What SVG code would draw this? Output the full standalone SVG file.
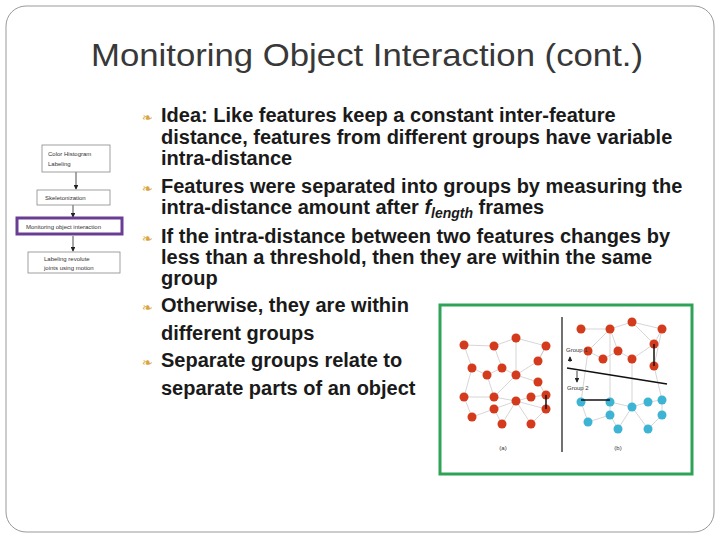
<svg xmlns="http://www.w3.org/2000/svg" width="720" height="540" viewBox="0 0 720 540">
<defs>
<style>
.t{font-family:"Liberation Sans",Arial,sans-serif;font-weight:bold;font-size:20px;fill:#1a1a1a}
.b{font-family:"DejaVu Sans",sans-serif;font-size:13px;fill:#d9a43c}
.s{font-family:"Liberation Sans",Arial,sans-serif;font-size:6px;fill:#333}
.fb{fill:#fff;stroke:#888;stroke-width:0.8}
.e{stroke:#bbb;stroke-width:0.6;fill:none}
.r{fill:#d43a1c}
.c{fill:#3db4d4}
.k{stroke:#111;stroke-width:1.5;fill:none}
</style>
<marker id="ar" markerWidth="6" markerHeight="6" refX="5" refY="3" orient="auto"><path d="M0,0L6,3L0,6z" fill="#222"/></marker>
</defs>
<rect x="6" y="6" width="708" height="526" rx="20" fill="#fff" stroke="#999" stroke-width="1"/>
<text x="367" y="66" text-anchor="middle" font-family="Liberation Sans,Arial,sans-serif" font-size="32" fill="#383838" textLength="552" lengthAdjust="spacingAndGlyphs">Monitoring Object Interaction (cont.)</text>

<g id="flow">
<g id="connectors">
<line x1="76" y1="172" x2="76" y2="189" stroke="#222" stroke-width="0.8" marker-end="url(#ar)"/>
<line x1="73" y1="205" x2="73" y2="217" stroke="#222" stroke-width="0.8" marker-end="url(#ar)"/>
<line x1="73" y1="236" x2="73" y2="251" stroke="#222" stroke-width="0.8" marker-end="url(#ar)"/>
</g>
<g id="n1"><rect class="fb" x="42" y="145" width="68" height="27"/><text class="s" x="48" y="156">Color Histogram</text><text class="s" x="48" y="166">Labeling</text></g>
<g id="n2"><rect class="fb" x="37" y="190" width="73" height="15"/><text class="s" x="45" y="200">Skeletonization</text></g>
<g id="n3"><rect x="17" y="218" width="105" height="16" fill="#fff" stroke="#6a3d94" stroke-width="3"/><text class="s" x="26" y="229">Monitoring object interaction</text></g>
<g id="n4"><rect class="fb" x="28" y="252" width="92" height="21"/><text class="s" x="44" y="261">Labeling revolute</text><text class="s" x="44" y="270">joints using motion</text></g>
</g>

<g id="text">
<text class="b" x="142" y="122">❧</text>
<text class="b" x="142" y="193">❧</text>
<text class="b" x="142" y="243">❧</text>
<text class="b" x="142" y="312">❧</text>
<text class="b" x="142" y="367">❧</text>
<text class="t" x="161" y="122">Idea: Like features keep a constant inter-feature</text>
<text class="t" x="161" y="144">distance, features from different groups have variable</text>
<text class="t" x="161" y="165">intra-distance</text>
<text class="t" x="161" y="193">Features were separated into groups by measuring the</text>
<text class="t" x="161" y="214">intra-distance amount after <tspan font-style="italic">f</tspan><tspan font-style="italic" font-size="14" dy="4">length</tspan><tspan dy="-4"> frames</tspan></text>
<text class="t" x="161" y="243">If the intra-distance between two features changes by</text>
<text class="t" x="161" y="264">less than a threshold, then they are within the same</text>
<text class="t" x="161" y="285">group</text>
<text class="t" x="161" y="312">Otherwise, they are within</text>
<text class="t" x="161" y="340">different groups</text>
<text class="t" x="161" y="367">Separate groups relate to</text>
<text class="t" x="161" y="395">separate parts of an object</text>
</g>

<g id="figure">
<rect x="440" y="305" width="252" height="169" fill="#fff" stroke="#2ea357" stroke-width="3"/>
<path class="e" d="M464,345L494,346L516,338L546,346L538,361L516,375L502,368L494,346M472,368L464,345M472,368L487,375L502,368M516,338L516,375L538,382L546,395L531,397L516,401L494,397L487,375M464,397L472,368M464,397L494,397M494,409L516,401L546,409M472,417L494,409L502,424L516,401L531,424L546,409M464,397L472,417M538,361L546,346M516,375L494,397"/>
<g class="r">
<circle cx="464" cy="345" r="4.5"/><circle cx="494" cy="346" r="4.5"/><circle cx="516" cy="338" r="4.5"/><circle cx="546" cy="346" r="4.5"/><circle cx="538" cy="361" r="4.5"/><circle cx="472" cy="368" r="4.5"/><circle cx="487" cy="375" r="4.5"/><circle cx="502" cy="368" r="4.5"/><circle cx="516" cy="375" r="4.5"/><circle cx="538" cy="382" r="4.5"/><circle cx="464" cy="397" r="4.5"/><circle cx="494" cy="397" r="4.5"/><circle cx="516" cy="401" r="4.5"/><circle cx="531" cy="397" r="4.5"/><circle cx="546" cy="395" r="4.5"/><circle cx="546" cy="409" r="4.5"/><circle cx="494" cy="409" r="4.5"/><circle cx="472" cy="417" r="4.5"/><circle cx="502" cy="424" r="4.5"/><circle cx="531" cy="424" r="4.5"/>
</g>
<line class="k" x1="546" y1="395" x2="546" y2="409"/>
<line x1="562" y1="317" x2="562" y2="452" stroke="#111" stroke-width="1.2"/>
<path class="e" d="M581,329L610,329L632,322L662,329L654,344L632,359L618,351L610,329L588,351L603,359L618,351M632,322L654,344M654,366L662,329M588,351L581,402M610,329L610,402M632,359L632,407M654,366L662,400M581,402L588,422L610,415L618,429L632,407L648,429L662,415L662,400L648,402L632,407L610,402M610,415L610,402"/>
<g class="r">
<circle cx="581" cy="329" r="4.5"/><circle cx="610" cy="329" r="4.5"/><circle cx="632" cy="322" r="4.5"/><circle cx="662" cy="329" r="4.5"/><circle cx="654" cy="344" r="4.5"/><circle cx="654" cy="366" r="4.5"/><circle cx="588" cy="351" r="4.5"/><circle cx="618" cy="351" r="4.5"/><circle cx="603" cy="359" r="4.5"/><circle cx="632" cy="359" r="4.5"/>
</g>
<g class="c">
<circle cx="581" cy="402" r="4.5"/><circle cx="610" cy="402" r="4.5"/><circle cx="632" cy="407" r="4.5"/><circle cx="648" cy="402" r="4.5"/><circle cx="662" cy="400" r="4.5"/><circle cx="610" cy="415" r="4.5"/><circle cx="588" cy="422" r="4.5"/><circle cx="618" cy="429" r="4.5"/><circle cx="648" cy="429" r="4.5"/><circle cx="662" cy="415" r="4.5"/>
</g>
<line class="k" x1="654" y1="344" x2="654" y2="366"/>
<line class="k" x1="581" y1="400" x2="610" y2="400"/>
<line class="k" x1="567" y1="368" x2="667" y2="384"/>
<line x1="570" y1="362" x2="570" y2="357" stroke="#111" stroke-width="0.8" marker-end="url(#ar)"/>
<line x1="577" y1="371" x2="577" y2="382" stroke="#111" stroke-width="0.8" marker-end="url(#ar)"/>
<text class="s" x="566" y="352" font-size="5">Group 1</text>
<text class="s" x="567" y="390" font-size="5">Group 2</text>
<text class="s" x="503" y="450" text-anchor="middle">(a)</text>
<text class="s" x="618" y="450" text-anchor="middle">(b)</text>
</g>
</svg>
